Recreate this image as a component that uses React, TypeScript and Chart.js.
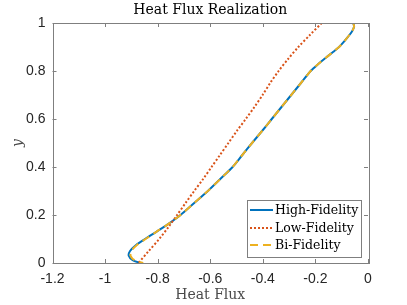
import React, { useEffect, useRef } from "react";
import { Chart, registerables } from "chart.js";

Chart.register(...registerables);

const titleText = "Heat Flux Realization";
const xTitle = "Heat Flux";
const yTitle = "y";
const seriesNames = ["High-Fidelity", "Low-Fidelity", "Bi-Fidelity"];
const xTicks = [-1.2, -1, -0.8, -0.6, -0.4, -0.2, 0];
const yTicks = [0, 0.2, 0.4, 0.6, 0.8, 1];

const highY = [1.0, 0.985, 0.965, 0.94, 0.92, 0.9, 0.88, 0.86, 0.83, 0.8, 0.75, 0.7, 0.65, 0.6, 0.55, 0.5, 0.45, 0.4, 0.35, 0.3, 0.25, 0.2, 0.16, 0.13, 0.1, 0.075, 0.05, 0.03, 0.012, 0.0];
const highX = [-0.056, -0.053, -0.061, -0.078, -0.093, -0.11, -0.132, -0.155, -0.188, -0.218, -0.255, -0.292, -0.329, -0.366, -0.403, -0.441, -0.478, -0.515, -0.562, -0.609, -0.661, -0.713, -0.763, -0.805, -0.848, -0.882, -0.905, -0.91, -0.895, -0.866];

const lowY = [1.0, 0.95, 0.9, 0.85, 0.8, 0.75, 0.7, 0.65, 0.6, 0.55, 0.5, 0.45, 0.4, 0.35, 0.3, 0.25, 0.2, 0.15, 0.1, 0.05, 0.0];
const lowX = [-0.176, -0.221, -0.265, -0.304, -0.34, -0.372, -0.401, -0.432, -0.465, -0.499, -0.531, -0.563, -0.595, -0.627, -0.661, -0.694, -0.726, -0.759, -0.794, -0.834, -0.873];

const biY = [1.0, 0.985, 0.965, 0.94, 0.92, 0.9, 0.88, 0.86, 0.83, 0.8, 0.75, 0.7, 0.65, 0.6, 0.55, 0.5, 0.45, 0.4, 0.35, 0.3, 0.25, 0.2, 0.16, 0.13, 0.1, 0.075, 0.05, 0.03, 0.012, 0.0];
const biX = [-0.056, -0.053, -0.061, -0.078, -0.093, -0.11, -0.132, -0.155, -0.188, -0.218, -0.255, -0.292, -0.329, -0.366, -0.403, -0.441, -0.478, -0.515, -0.562, -0.609, -0.661, -0.713, -0.763, -0.805, -0.846, -0.879, -0.9, -0.903, -0.888, -0.855];

const COLORS = ["#0072BD", "#D95319", "#EDB120"];
const DASHES: number[][] = [[], [2, 2], [8, 5]];

const toPts = (xs: number[], ys: number[]) => xs.map((x, i) => ({ x, y: ys[i] }));

const TEXT = "#262626";
const SERIF = "'DejaVu Serif', serif";
const SANS = "'Liberation Sans', Arial, sans-serif";

const decorPlugin = {
  id: "decor",
  afterDraw(chart: any) {
    const ctx = chart.ctx as CanvasRenderingContext2D;
    const { left, right, top, bottom } = chart.chartArea;
    const xs = chart.scales.x;
    const ys = chart.scales.y;
    ctx.save();
    ctx.strokeStyle = "#7f7f7f";
    ctx.lineWidth = 1;
    ctx.strokeRect(Math.round(left) + 0.5, Math.round(top) + 0.5, Math.round(right - left), Math.round(bottom - top));
    const tl = 4;
    ctx.beginPath();
    xTicks.forEach((v) => {
      const px = Math.round(xs.getPixelForValue(v)) + 0.5;
      ctx.moveTo(px, bottom);
      ctx.lineTo(px, bottom - tl);
      ctx.moveTo(px, top);
      ctx.lineTo(px, top + tl);
    });
    yTicks.forEach((v) => {
      const py = Math.round(ys.getPixelForValue(v)) + 0.5;
      ctx.moveTo(left, py);
      ctx.lineTo(left + tl, py);
      ctx.moveTo(right, py);
      ctx.lineTo(right - tl, py);
    });
    ctx.stroke();
    ctx.fillStyle = "#000";
    ctx.font = `14px ${SERIF}`;
    ctx.textAlign = "center";
    ctx.textBaseline = "middle";
    ctx.fillText(titleText, (left + right) / 2, 10);
    ctx.fillStyle = "#4a4a4a";
    ctx.font = `14px ${SERIF}`;
    ctx.fillText(xTitle, (left + right) / 2, 295);
    ctx.save();
    ctx.translate(18, (top + bottom) / 2);
    ctx.rotate(-Math.PI / 2);
    ctx.font = `italic 14px ${SERIF}`;
    ctx.fillText(yTitle, 0, 0);
    ctx.restore();
    const lx = 247, ly = 200, lw = 114, lh = 57;
    ctx.fillStyle = "#fff";
    ctx.fillRect(lx, ly, lw, lh);
    ctx.strokeStyle = "#7f7f7f";
    ctx.strokeRect(lx + 0.5, ly + 0.5, lw, lh);
    const rows = [210, 228, 245];
    seriesNames.forEach((name, i) => {
      ctx.strokeStyle = COLORS[i];
      ctx.lineWidth = 2;
      ctx.setLineDash(DASHES[i]);
      ctx.beginPath();
      ctx.moveTo(250, rows[i]);
      ctx.lineTo(273, rows[i]);
      ctx.stroke();
      ctx.setLineDash([]);
      ctx.fillStyle = "#000";
      ctx.font = `12.5px ${SERIF}`;
      ctx.textAlign = "left";
      ctx.textBaseline = "middle";
      ctx.fillText(name, 275, rows[i] + 0.5);
    });
    ctx.restore();
  },
};

export default function App() {
  const ref = useRef<HTMLCanvasElement | null>(null);
  useEffect(() => {
    if (!ref.current) return;
    const chart = new Chart(ref.current, {
      type: "scatter",
      data: {
        datasets: [
          { label: seriesNames[0], data: toPts(highX, highY), order: 2 },
          { label: seriesNames[1], data: toPts(lowX, lowY), order: 1 },
          { label: seriesNames[2], data: toPts(biX, biY), order: 0 },
        ].map((d, i) => ({
          ...d,
          showLine: true,
          borderColor: COLORS[i],
          backgroundColor: COLORS[i],
          borderWidth: 2,
          borderDash: DASHES[i],
          pointRadius: 0,
          tension: 0.3,
          fill: false,
        })),
      },
      options: {
        animation: false,
        responsive: false,
        events: [],
        layout: { padding: { top: 23, right: 39, left: 0, bottom: 0 } },
        plugins: { legend: { display: false }, title: { display: false }, tooltip: { enabled: false } },
        scales: {
          x: {
            type: "linear",
            min: -1.2,
            max: 0,
            grid: { display: false, drawTicks: false },
            border: { display: false },
            afterBuildTicks: (s: any) => { s.ticks = xTicks.map((v) => ({ value: v })); },
            ticks: {
              padding: 8,
              color: TEXT,
              font: { family: SANS, size: 14 },
              callback: (v: any) => String(Number(Number(v).toFixed(1))),
            },
            afterFit: (s: any) => { s.height = 42; },
          },
          y: {
            type: "linear",
            min: 0,
            max: 1,
            grid: { display: false, drawTicks: false },
            border: { display: false },
            afterBuildTicks: (s: any) => { s.ticks = yTicks.map((v) => ({ value: v })); },
            ticks: {
              padding: 7,
              color: TEXT,
              font: { family: SANS, size: 14 },
              callback: (v: any) => String(Number(Number(v).toFixed(1))),
            },
            afterFit: (s: any) => { s.width = 52.5; },
          },
        },
      },
      plugins: [decorPlugin],
    } as any);
    return () => chart.destroy();
  }, []);
  return (
    <div style={{ position: "absolute", left: 0, top: 0, width: 407, height: 305, background: "#fff" }}>
      <canvas ref={ref} width={407} height={305} style={{ width: 407, height: 305 }} />
    </div>
  );
}
